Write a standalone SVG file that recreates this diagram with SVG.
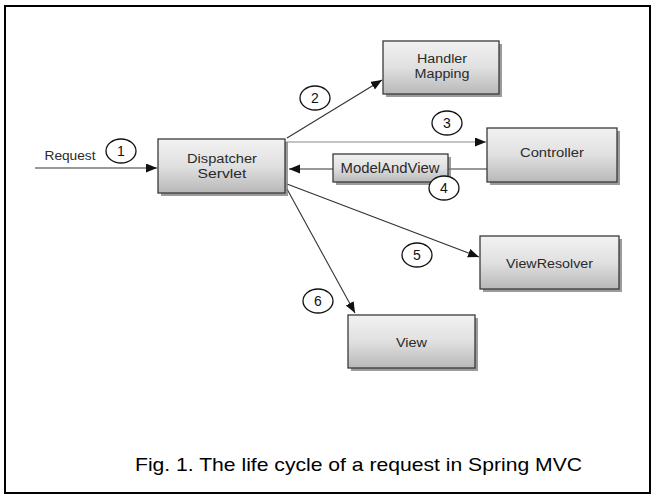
<svg xmlns="http://www.w3.org/2000/svg" width="655" height="496" viewBox="0 0 655 496">
<defs>
<linearGradient id="boxg" x1="0" y1="0" x2="0" y2="1">
<stop offset="0" stop-color="#f2f2f2"/>
<stop offset="0.5" stop-color="#e0e0e0"/>
<stop offset="1" stop-color="#b8b8b8"/>
</linearGradient>
<marker id="ah" markerUnits="userSpaceOnUse" markerWidth="12" markerHeight="10" refX="11" refY="4.5" orient="auto">
<path d="M0,0 L11,4.5 L0,9 z" fill="#111"/>
</marker>
<style>
.box{fill:url(#boxg);stroke:#3a3a3a;stroke-width:1.3}
.shadow{fill:#7a7a7a;opacity:0.75}
.lbl{font-family:"Liberation Sans",Arial,sans-serif;font-size:13px;fill:#2a2a2a;text-anchor:middle}
.num{font-family:"Liberation Sans",Arial,sans-serif;font-size:14px;fill:#111;text-anchor:middle}
.circ{fill:#fff;stroke:#111;stroke-width:1.3}
.conn{stroke:#333;stroke-width:1.1;fill:none;marker-end:url(#ah)}
</style>
</defs>
<rect x="0" y="0" width="655" height="496" fill="#fff"/>
<rect x="5" y="6" width="645" height="487" fill="none" stroke="#000" stroke-width="2"/>

<g id="connectors">
<line class="conn" x1="35" y1="168" x2="157" y2="168"/>
<line class="conn" x1="287" y1="138" x2="382" y2="80"/>
<line class="conn" x1="286" y1="142" x2="486" y2="142" style="stroke:#8a8a8a"/>
<line class="conn" x1="487" y1="169" x2="289" y2="169"/>
<line class="conn" x1="287" y1="184" x2="479" y2="257"/>
<line class="conn" x1="287" y1="189" x2="355" y2="313"/>
</g>

<g id="request-label">
<text class="lbl" x="70" y="160" textLength="51" lengthAdjust="spacingAndGlyphs">Request</text>
</g>

<g id="dispatcher">
<rect class="shadow" x="161" y="142" width="127" height="54"/>
<rect class="box" x="158" y="139" width="127" height="54"/>
<text class="lbl" x="222" y="162.5" style="font-size:12.5px" textLength="70" lengthAdjust="spacingAndGlyphs">Dispatcher</text>
<text class="lbl" x="222" y="177.5" style="font-size:12.5px" textLength="49" lengthAdjust="spacingAndGlyphs">Servlet</text>
</g>

<g id="handler-mapping">
<rect class="shadow" x="386" y="44" width="116" height="53"/>
<rect class="box" x="383" y="41" width="116" height="53"/>
<text class="lbl" x="442" y="62.5" style="font-size:12.5px" textLength="50" lengthAdjust="spacingAndGlyphs">Handler</text>
<text class="lbl" x="442" y="77.5" style="font-size:12.5px" textLength="55" lengthAdjust="spacingAndGlyphs">Mapping</text>
</g>

<g id="controller">
<rect class="shadow" x="490" y="131" width="130" height="54"/>
<rect class="box" x="487" y="128" width="130" height="54"/>
<text class="lbl" x="552" y="157" textLength="64" lengthAdjust="spacingAndGlyphs">Controller</text>
</g>

<g id="modelandview">
<rect class="shadow" x="336" y="157" width="115" height="28"/>
<rect class="box" x="333" y="154" width="115" height="28"/>
<text class="lbl" x="390" y="173" style="font-size:14px" textLength="99" lengthAdjust="spacingAndGlyphs">ModelAndView</text>
</g>

<g id="viewresolver">
<rect class="shadow" x="483" y="239" width="139" height="53"/>
<rect class="box" x="480" y="236" width="139" height="53"/>
<text class="lbl" x="549.5" y="268" textLength="87" lengthAdjust="spacingAndGlyphs">ViewResolver</text>
</g>

<g id="view">
<rect class="shadow" x="351" y="318" width="127" height="53"/>
<rect class="box" x="348" y="315" width="127" height="53"/>
<text class="lbl" x="411.5" y="347" textLength="31" lengthAdjust="spacingAndGlyphs">View</text>
</g>

<g id="step1"><ellipse class="circ" cx="121" cy="151" rx="15" ry="12"/><text class="num" x="121" y="156">1</text></g>
<g id="step2"><ellipse class="circ" cx="315" cy="98" rx="15" ry="12"/><text class="num" x="315" y="103">2</text></g>
<g id="step3"><ellipse class="circ" cx="447" cy="123" rx="15" ry="12"/><text class="num" x="447" y="128">3</text></g>
<g id="step4"><ellipse class="circ" cx="444" cy="188" rx="15" ry="12"/><text class="num" x="444" y="193">4</text></g>
<g id="step5"><ellipse class="circ" cx="417" cy="255" rx="15" ry="12"/><text class="num" x="417" y="260">5</text></g>
<g id="step6"><ellipse class="circ" cx="318" cy="301" rx="15" ry="12"/><text class="num" x="318" y="306">6</text></g>

<g id="caption">
<text x="135" y="471" font-family="'Liberation Sans',Arial,sans-serif" font-size="19" fill="#000" textLength="447" lengthAdjust="spacingAndGlyphs">Fig. 1. The life cycle of a request in Spring MVC</text>
</g>
</svg>
